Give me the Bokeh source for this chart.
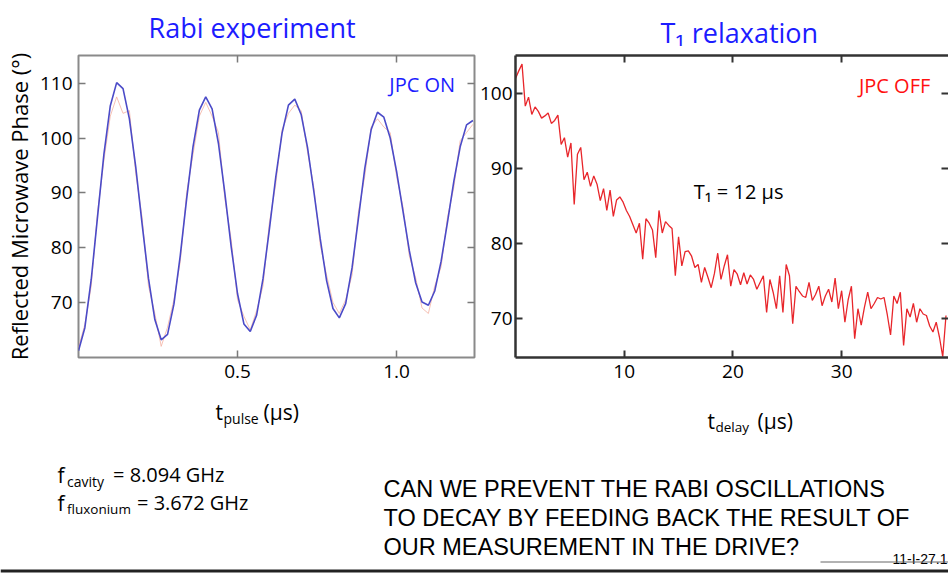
import math
from bokeh.plotting import figure
from bokeh.models import Range1d, LinearAxis, FixedTicker, CustomJSTickFormatter, PrintfTickFormatter
from bokeh.layouts import column, row
from bokeh.embed import file_html
from bokeh.resources import INLINE
from bokeh.core.properties import value

# ---------------- data ----------------
# Rabi experiment (JPC ON), t_pulse sampled every 0.02 us
phase_on_fit = [
    61.2, 65.4, 74.2, 85.7, 97.1, 105.9, 110.1, 109.0, 103.5, 94.7,
    84.3, 74.4, 66.9, 63.2, 64.2, 69.7, 78.6, 88.9, 98.4, 105.1,
    107.5, 105.3, 99.0, 90.0, 80.2, 71.6, 66.1, 64.7, 67.7, 74.3,
    83.3, 92.8, 100.9, 106.0, 107.1, 104.3, 98.3, 90.2, 81.6, 74.0,
    68.9, 67.2, 69.8, 76.3, 85.3, 94.4, 101.5, 104.7, 103.8, 100.0,
    93.9, 86.7, 79.5, 73.6, 70.1, 69.5, 72.1, 77.5, 84.6, 92.1,
    98.4, 102.4, 103.2,
]
phase_on_raw = [
    61.8, 66.0, 73.0, 86.5, 96.0, 104.0, 107.5, 104.5, 105.0, 93.5,
    85.5, 73.0, 68.0, 62.0, 65.5, 70.5, 77.5, 90.0, 97.0, 104.0,
    106.5, 104.0, 101.0, 89.0, 81.5, 70.5, 67.5, 65.0, 68.5, 73.0,
    84.5, 91.5, 101.5, 104.5, 106.0, 105.0, 97.5, 91.0, 80.5, 75.0,
    70.0, 68.0, 70.5, 75.0, 86.5, 93.0, 102.0, 103.5, 102.0, 101.0,
    93.0, 87.5, 78.5, 74.5, 69.0, 68.0, 73.0, 76.5, 85.5, 91.0,
    99.5, 101.0, 102.5,
]
t_pulse = [round(i * 0.02, 2) for i in range(len(phase_on_fit))]

# T1 relaxation (JPC OFF), t_delay sampled every 0.3 us
phase_off = [
    102.0, 103.0, 103.9, 98.3, 99.5, 97.2, 98.2, 97.6, 96.7, 97.0,
    97.4, 96.0, 96.4, 97.1, 93.2, 94.1, 91.5, 93.4, 85.2, 91.9,
    92.8, 88.5, 89.5, 87.6, 89.0, 87.9, 85.7, 87.3, 84.4, 87.1,
    83.6, 85.8, 86.2, 85.5, 84.4, 83.6, 82.5, 81.4, 82.7, 77.9,
    83.3, 82.7, 81.8, 78.1, 84.4, 81.4, 82.9, 82.4, 82.0, 75.7,
    80.9, 77.0, 78.9, 79.0, 78.3, 76.8, 77.2, 74.8, 76.8, 75.5,
    74.1, 76.0, 78.7, 75.2, 77.0, 78.5, 74.3, 76.5, 75.9, 74.5,
    76.1, 74.6, 75.8, 75.2, 73.9, 74.8, 75.7, 70.8, 75.2, 73.5,
    71.3, 75.7, 70.8, 77.2, 75.7, 69.3, 74.3, 73.6, 73.0, 72.8,
    74.8, 72.4, 73.2, 74.3, 71.7, 73.0, 73.9, 72.2, 75.4, 71.3,
    73.7, 69.5, 72.5, 74.3, 67.3, 71.3, 69.1, 71.5, 73.5, 71.3,
    72.0, 72.8, 72.6, 72.8, 70.5, 67.8, 73.0, 72.0, 73.5, 66.4,
    71.3, 70.2, 72.0, 69.5, 71.3, 70.6, 70.4, 69.0, 68.2, 69.5,
    67.5, 64.9, 70.4,
]
t_delay = [round(i * 0.3, 1) for i in range(len(phase_off))]

left_xticks = [0.5, 1.0]
left_yticks = [70, 80, 90, 100, 110]
right_xticks = [10, 20, 30]
right_yticks = [70, 80, 90, 100]

question_lines = [
    "CAN WE PREVENT THE RABI OSCILLATIONS",
    "TO DECAY BY FEEDING BACK THE RESULT OF",
    "OUR MEASUREMENT IN THE DRIVE?",
]

# ---------------- styling ----------------
FONT = "Open Sans"
BLUE = "#1c1cff"
RED = "#ff1010"


def setup_axes(p, xticks, yticks, col, lw, xstand, ystand):
    bx, ly = p.below[0], p.left[0]
    for ax in (bx, ly):
        ax.major_tick_in = 7
        ax.major_tick_out = 0
        ax.minor_tick_line_color = None
        ax.major_tick_line_color = col
        ax.major_tick_line_width = lw
        ax.major_label_text_font = FONT
        ax.major_label_text_font_size = "19px"
        ax.major_label_text_color = "black"
    bx.ticker = FixedTicker(ticks=xticks)
    ly.ticker = FixedTicker(ticks=yticks)
    bx.major_label_standoff = xstand
    ly.major_label_standoff = ystand
    top = LinearAxis(ticker=FixedTicker(ticks=xticks), formatter=CustomJSTickFormatter(code="return ''"))
    right = LinearAxis(ticker=FixedTicker(ticks=yticks), formatter=CustomJSTickFormatter(code="return ''"))
    for ax in (top, right):
        ax.major_tick_in = 7
        ax.major_tick_out = 0
        ax.minor_tick_line_color = None
        ax.major_tick_line_color = col
        ax.major_tick_line_width = lw
        ax.major_label_standoff = 0
    p.add_layout(top, "above")
    p.add_layout(right, "right")
    return bx, ly, top, right


def text_fig(x0, x1, y0, y1):
    """A blank figure whose data coordinates equal page pixels."""
    f = figure(width=x1 - x0, height=y1 - y0, output_backend="svg", toolbar_location=None,
               x_range=Range1d(x0, x1), y_range=Range1d(y1, y0),
               min_border=0, min_border_left=0, min_border_right=0,
               min_border_top=0, min_border_bottom=0,
               background_fill_color="white", border_fill_color="white")
    f.axis.visible = False
    f.grid.visible = False
    f.outline_line_color = None
    return f


def put(f, x, y, t, size, color="black", font=FONT, align="left", baseline="alphabetic", angle=0.0):
    f.text(x=[x], y=[y], text=[t], text_font=value(font), text_font_size=size,
           text_color=color, text_align=align, text_baseline=baseline, angle=angle)


# page geometry
TITLE_H = 50       # title strip height
PLOT_BOTTOM = 394  # bottom of the plots row
SPLIT = 476        # boundary between the two plot figures

# ---------------- title strip ----------------
titles = text_fig(0, 948, 0, TITLE_H)
put(titles, 148, 27, "Rabi experiment", "27px", BLUE)
put(titles, 660, 32, "T\u2081 relaxation", "27px", BLUE)

# ---------------- left plot: Rabi ----------------
LFX0, LFX1, LFY0, LFY1 = 74, 474, 55, 357
LXR = (0.0, 1.245)
LYR = (59.97, 115.05)
left = figure(width=SPLIT, height=PLOT_BOTTOM - TITLE_H,
              output_backend="svg", toolbar_location=None,
              x_range=Range1d(*LXR), y_range=Range1d(*LYR),
              min_border_left=LFX0, min_border_right=SPLIT - LFX1,
              min_border_top=LFY0 - TITLE_H, min_border_bottom=PLOT_BOTTOM - LFY1,
              background_fill_color="white", border_fill_color="white")
left.grid.visible = False
left.outline_line_color = "#8a8a8a"
left.outline_line_width = 2
lbx, lly, ltop, lright = setup_axes(left, left_xticks, left_yticks, "#7a7a7a", 1.5, 7, 6)
lbx.formatter = PrintfTickFormatter(format="%.1f")
for ax in (lbx, lly, ltop, lright):
    ax.axis_line_color = None
lly.axis_label = "Reflected Microwave Phase (\u00b0)"
lly.axis_label_text_font = FONT
lly.axis_label_text_font_size = "22px"
lly.axis_label_text_font_style = "normal"
lly.axis_label_text_color = "black"
lly.axis_label_standoff = 3

left.line(t_pulse, phase_on_raw, line_color="#f4b2a2", line_width=1, line_alpha=0.8)
left.line(t_pulse, phase_on_fit, line_color="#4b4bc8", line_width=1.6)
left.text(x=[LXR[0] + (388 - LFX0) / (LFX1 - LFX0) * (LXR[1] - LXR[0])],
          y=[LYR[1] - (83.5 - LFY0) / (LFY1 - LFY0) * (LYR[1] - LYR[0])],
          text=["JPC ON"], text_font=value(FONT), text_font_size="20px",
          text_color=BLUE, text_baseline="alphabetic")

# ---------------- right plot: T1 ----------------
RFX0, RFX1, RFY0, RFY1 = 513, 948, 53, 363
RXR = (0.0, 39.83)
RYR = (64.8, 105.05)
rightp = figure(width=948 - SPLIT, height=PLOT_BOTTOM - TITLE_H,
                output_backend="svg", toolbar_location=None,
                x_range=Range1d(*RXR), y_range=Range1d(*RYR),
                min_border_left=RFX0 - SPLIT, min_border_right=948 - RFX1,
                min_border_top=RFY0 - TITLE_H, min_border_bottom=PLOT_BOTTOM - RFY1,
                background_fill_color="white", border_fill_color="white")
rightp.grid.visible = False
rightp.outline_line_color = None
rbx, rly, rtop, rright = setup_axes(rightp, right_xticks, right_yticks, "#333333", 2, 7, 3)
for ax in (rbx, rly, rtop):
    ax.axis_line_color = "#333333"
    ax.axis_line_width = 2.5
rright.axis_line_color = None

rightp.line(t_delay, phase_off, line_color="#e8262b", line_width=1.3)


def rpos(px, py):
    x = RXR[0] + (px - RFX0) / (RFX1 - RFX0) * (RXR[1] - RXR[0])
    y = RYR[1] - (py - RFY0) / (RFY1 - RFY0) * (RYR[1] - RYR[0])
    return [x], [y]


for px, py, t, size, col in [(858, 83.5, "JPC OFF", "20px", RED),
                             (692, 193, "T\u2081 = 12 \u03bcs", "20px", "black")]:
    xs, ys = rpos(px, py)
    rightp.text(x=xs, y=ys, text=[t], text_font=value(FONT), text_font_size=size,
                text_color=col, text_baseline="alphabetic")

# ---------------- bottom strip ----------------
bottom = text_fig(0, 948, PLOT_BOTTOM, 573)
put(bottom, 215, 411.5, "t", "21px")
put(bottom, 223, 418, "pulse", "14px")
put(bottom, 263, 411.5, "(\u03bcs)", "21px")
put(bottom, 707, 420, "t", "21px")
put(bottom, 715, 426, "delay", "13.5px")
put(bottom, 757, 420, "(\u03bcs)", "21px")

put(bottom, 57, 474, "f", "21px")
put(bottom, 66.5, 481, "cavity", "14px")
put(bottom, 112.5, 474, "= 8.094 GHz", "20px")
put(bottom, 57, 502, "f", "21px")
put(bottom, 66.5, 508.5, "fluxonium", "13.5px")
put(bottom, 136.5, 502, "= 3.672 GHz", "20px")
for i, line in enumerate(question_lines):
    put(bottom, 383, 488.5 + 29 * i, line, "23.5px", font="Liberation Sans")
put(bottom, 947, 558, "11-I-27.1", "14px", font="Liberation Sans", align="right")
bottom.segment(x0=[820], y0=[561.5], x1=[948], y1=[561.5], line_color="#666666", line_width=1)
bottom.segment(x0=[0], y0=[570.5], x1=[948], y1=[570.5], line_color="#222222", line_width=3)

layout = column(titles, row(left, rightp, spacing=0), bottom, spacing=0)
open("out.html", "w").write(file_html(layout, INLINE))
